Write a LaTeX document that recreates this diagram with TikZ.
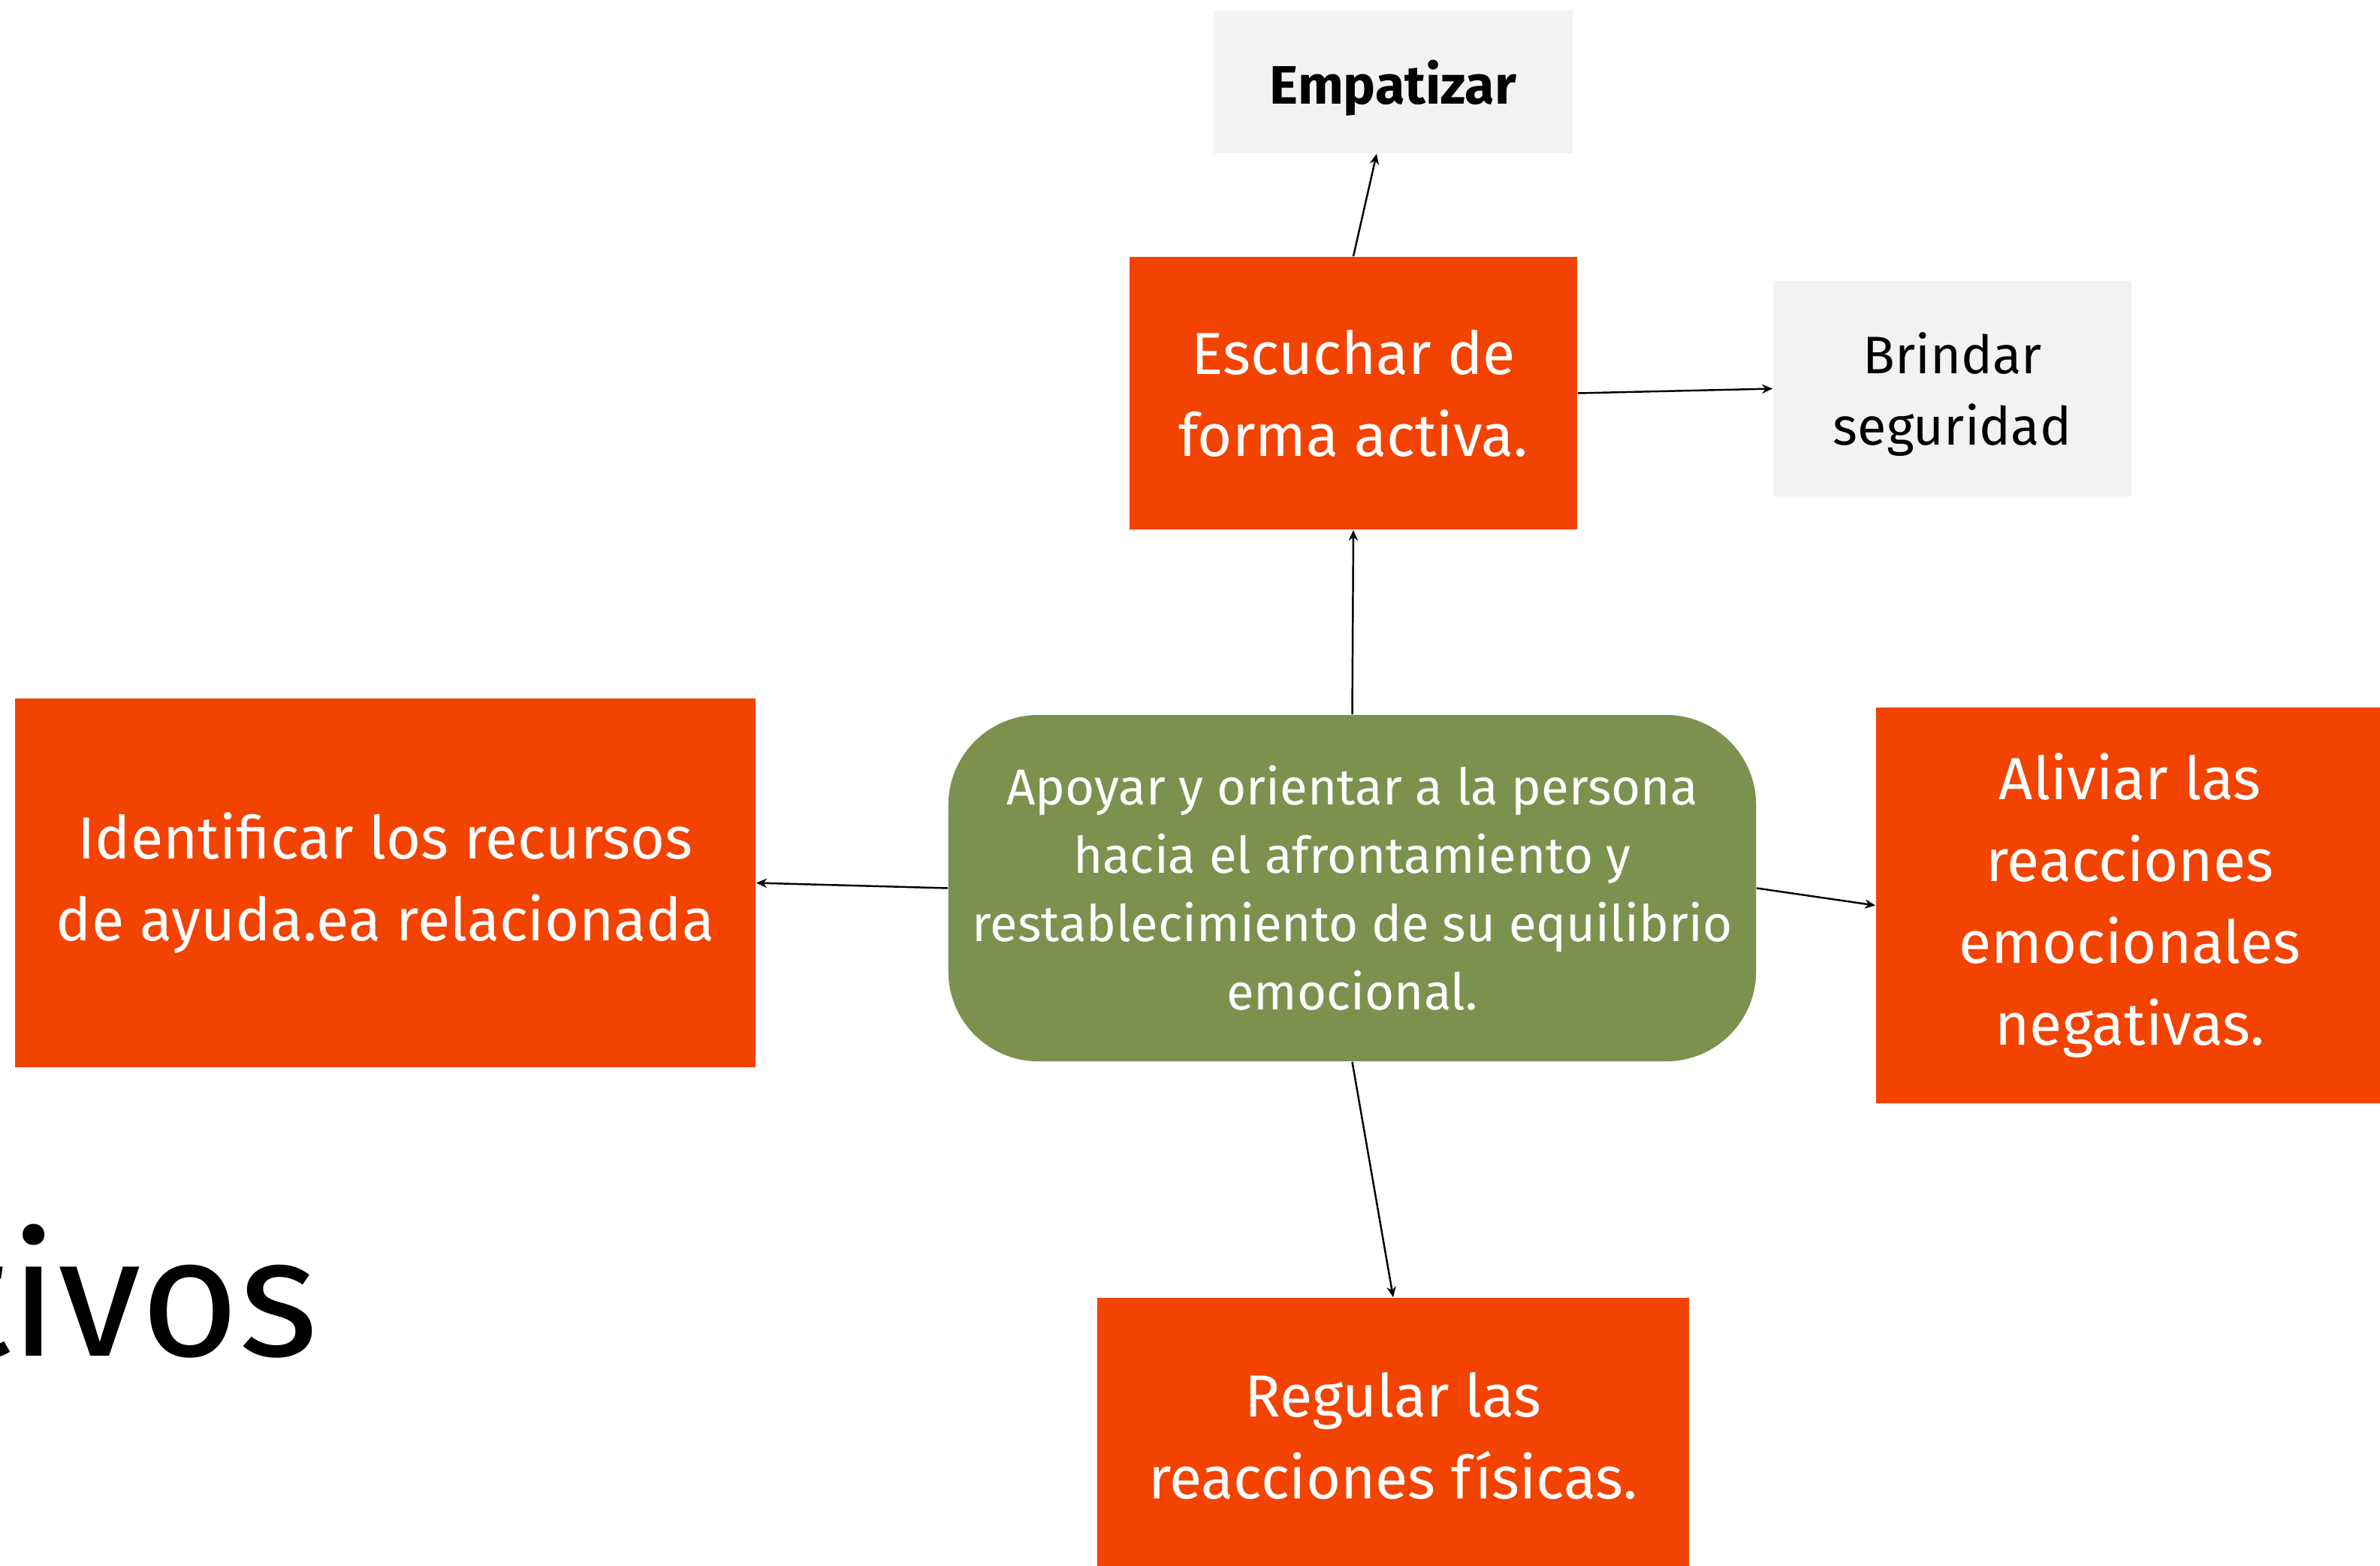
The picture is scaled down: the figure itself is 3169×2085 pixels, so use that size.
\documentclass[tikz,border=0pt]{standalone}
\usepackage{fontspec}
\setmainfont{Fira Sans}
\usetikzlibrary{arrows.meta,calc}
\definecolor{naranjo}{HTML}{F24300}
\definecolor{oliva}{HTML}{7D914E}
\definecolor{grisclaro}{HTML}{F2F2F2}
\begin{document}
\begin{tikzpicture}[x=0.01cm,y=-0.01cm]
    \tikzstyle{meta} = [rectangle, inner sep=0pt, align=center, fill=naranjo, text=white, font=\fontsize{22.5}{31}\selectfont]
    \tikzstyle{centro} = [rectangle, rounded corners=1.2cm, inner sep=0pt, align=center, fill=oliva, text=white, font=\fontsize{19.1}{25.9}\selectfont]
    \tikzstyle{extra} = [rectangle, inner sep=0pt, text depth=0pt, align=center, fill=grisclaro, text=black, font=\fontsize{20}{27}\selectfont]
    \tikzstyle{flecha} = [-{Stealth[length=4pt,width=3.5pt]}, line width=0.7pt]
    \useasboundingbox (0,0) rectangle (3169,2085);
    \node[anchor=base east, font=\fontsize{64}{70}\selectfont] (titulo) at (436,1805) {tivos};
    \node[centro, minimum width=10.75cm, minimum height=4.61cm] (apoyo) at (1800.5,1182.5)
      {Apoyar y orientar a la persona\\hacia el afrontamiento y\\restablecimiento de su equilibrio\\emocional.};
    \node[meta, minimum width=5.96cm, minimum height=3.63cm] (escuchar) at (1802,523.5)
      {Escuchar de\\forma activa.};
    \node[extra, minimum width=4.77cm, minimum height=1.9cm, font=\fontsize{20.5}{27}\selectfont\bfseries] (empatizar) at (1855,109)
      {Empatizar};
    \node[extra, minimum width=4.77cm, minimum height=2.87cm] (brindar) at (2599.5,517.5)
      {Brindar\\seguridad};
    \node[meta, minimum width=9.86cm, minimum height=4.91cm] (identificar) at (513,1175.5)
      {Identificar los recursos\\de ayuda.ea relacionada};
    \node[meta, minimum width=6.76cm, minimum height=5.27cm] (aliviar) at (2836,1205.5)
      {Aliviar las\\reacciones\\emocionales\\negativas.};
    \node[meta, minimum width=7.88cm, minimum height=3.68cm] (regular) at (1855,1912)
      {Regular las\\reacciones físicas.};
    \draw[flecha] (escuchar.north) -- ($(empatizar.south)+(-22,0)$);
    \draw[flecha] (escuchar.east) -- (brindar.west);
    \draw[flecha] (apoyo.north) -- (escuchar.south);
    \draw[flecha] (apoyo.west) -- (identificar.east);
    \draw[flecha] (apoyo.east) -- (aliviar.west);
    \draw[flecha] (apoyo.south) -- (regular.north);
\end{tikzpicture}
\end{document}
